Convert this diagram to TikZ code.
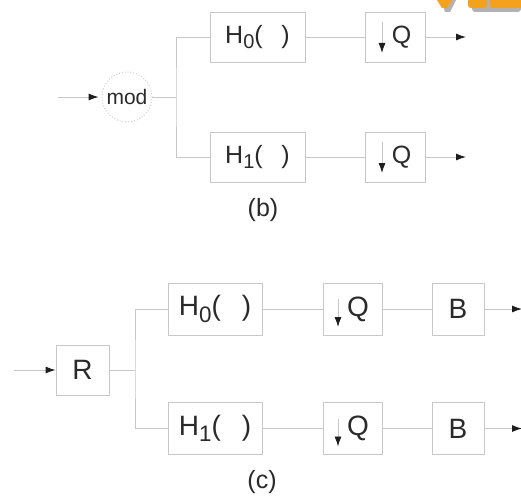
\documentclass[tikz,border=0pt]{standalone}
\usepackage{fontspec}
\setmainfont{Liberation Sans}
\usetikzlibrary{arrows.meta}
\definecolor{txt}{HTML}{2A2A2A}
\definecolor{ln}{HTML}{C8C8C8}
\definecolor{tipc}{HTML}{1E1E1E}
\definecolor{org}{HTML}{F4A21E}
\newcommand{\Hsub}[1]{H\raisebox{-0.22em}{\fontsize{0.8em}{1em}\selectfont #1}(\hspace{0.75em})}
\tikzset{
  blk/.style={draw=ln, line width=0.9pt, text=txt, inner sep=0pt, minimum height=50pt},
  bfont/.style={font=\fontsize{25}{29}\selectfont},
  cfont/.style={font=\fontsize{28}{32}\selectfont},
  wire/.style={draw=ln, line width=0.9pt},
  arr/.style={wire, -{Latex[length=10pt,width=7pt,color=tipc]}},
  darr/.style={draw=ln, line width=0.9pt, -{Latex[length=10pt,width=7pt,color=tipc]}},
}
\begin{document}
\begin{tikzpicture}[x=1pt,y=-1pt]
\useasboundingbox[fill=white] (0,0) rectangle (521,495);
% orange fragment (cropped logo)
\fill[black!30] (441,0) -- (456,0) -- (450,12) -- (445,12) -- cycle;
\fill[org] (437,0) -- (452,0) -- (447,8) -- (442,8) -- cycle;
\fill[black!30,rounded corners=3pt] (472,-5) rectangle (521,12);
\fill[org,rounded corners=3pt] (468,-5) rectangle (487,8);
\fill[org,rounded corners=3pt] (490,-5) rectangle (523,8);
% ---------- (b) ----------
\node[circle, draw=ln, dotted, line width=0.9pt, minimum size=50pt, inner sep=0pt, text=txt, font=\fontsize{21}{24}\selectfont] (mod) at (127,97) {mod};
\coordinate (inb) at (58,97);
\coordinate (jb) at (176,97);
\node[blk,bfont,minimum width=95pt] (H0b) at (257.5,37) {\Hsub{0}};
\node[blk,bfont,minimum width=95pt] (H1b) at (257.5,157) {\Hsub{1}};
\node[blk,bfont,minimum width=60pt] (Q0b) at (395,37) {\hspace*{13pt}Q};
\node[blk,bfont,minimum width=60pt] (Q1b) at (395,157) {\hspace*{13pt}Q};
\coordinate (o0b) at (466,37);
\coordinate (o1b) at (466,157);
\draw[arr, shorten >=3pt] (inb) -- (mod);
\draw[wire] (mod) -- (jb);
\draw[wire] (H0b.west) -| (jb) |- (H1b.west);
\draw[wire] (H0b) -- (Q0b);
\draw[wire] (H1b) -- (Q1b);
\draw[arr] (Q0b) -- (o0b);
\draw[arr] (Q1b) -- (o1b);
\draw[darr] ([xshift=-13pt,yshift=15pt]Q0b.center) -- ([xshift=-13pt,yshift=-16pt]Q0b.center);
\draw[darr] ([xshift=-13pt,yshift=15pt]Q1b.center) -- ([xshift=-13pt,yshift=-16pt]Q1b.center);
\node[text=txt,bfont] (lb) at (263,210) {(b)};
% ---------- (c) ----------
\coordinate (inc) at (14,370);
\coordinate (jc) at (135,370);
\node[blk,cfont,minimum width=53pt] (R) at (82.5,370) {R};
\node[blk,cfont,minimum width=94pt,minimum height=52pt] (H0c) at (215,309) {\Hsub{0}};
\node[blk,cfont,minimum width=94pt,minimum height=52pt] (H1c) at (215,428.5) {\Hsub{1}};
\node[blk,cfont,minimum width=59pt,minimum height=52pt] (Q0c) at (352.5,309) {\hspace*{11pt}Q};
\node[blk,cfont,minimum width=59pt,minimum height=52pt] (Q1c) at (352.5,428.5) {\hspace*{11pt}Q};
\node[blk,cfont,minimum width=52pt,minimum height=52pt] (B0c) at (458,309) {B};
\node[blk,cfont,minimum width=52pt,minimum height=52pt] (B1c) at (458,428.5) {B};
\coordinate (o0c) at (522,309);
\coordinate (o1c) at (522,428.5);
\draw[arr] (inc) -- (R);
\draw[wire] (R) -- (jc);
\draw[wire] (H0c.west) -| (jc) |- (H1c.west);
\draw[wire] (H0c) -- (Q0c);
\draw[wire] (H1c) -- (Q1c);
\draw[wire] (Q0c) -- (B0c);
\draw[wire] (Q1c) -- (B1c);
\draw[arr] (B0c) -- (o0c);
\draw[arr] (B1c) -- (o1c);
\draw[darr] ([xshift=-14.5pt,yshift=10pt]Q0c.center) -- ([xshift=-14.5pt,yshift=-18pt]Q0c.center);
\draw[darr] ([xshift=-14.5pt,yshift=10pt]Q1c.center) -- ([xshift=-14.5pt,yshift=-18pt]Q1c.center);
\node[text=txt,bfont] (lc) at (262,482) {(c)};
\end{tikzpicture}
\end{document}
